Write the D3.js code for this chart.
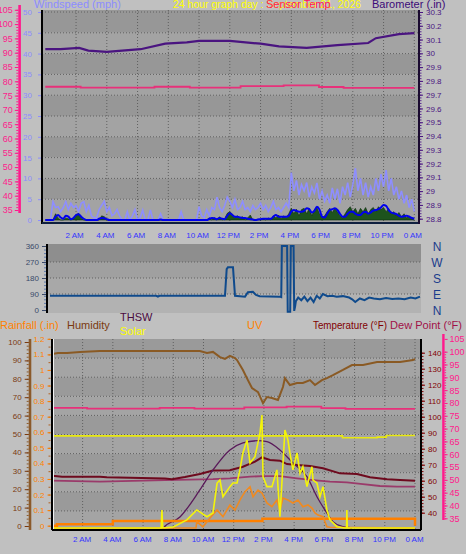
<!DOCTYPE html>
<html><head><meta charset="utf-8">
<script src="https://cdn.jsdelivr.net/npm/d3@7"></script>
<style>body{margin:0;background:#c0c0c0}svg{display:block}text{font-family:"Liberation Sans",Arial,sans-serif}</style>
</head><body><script>
// ---------- DATA ----------
const timeLabels = ["2 AM","4 AM","6 AM","8 AM","10 AM","12 PM","2 PM","4 PM","6 PM","8 PM","10 PM","0 AM"];
const timeLabelHours = [2,4,6,8,10,12,14,16,18,20,22,24];
// top panel
const windTicks = [0,5,10,15,20,25,30,35,40,45,50];
const sensorTicks = [35,40,45,50,55,60,65,70,75,80,85,90,95,100,105];
const baroTicks = [28.8,28.9,29,29.1,29.2,29.3,29.4,29.5,29.6,29.7,29.8,29.9,30,30.1,30.2,30.3];
// wind (mph), one value every 10 minutes from 0:00 to 24:00
const windGust = [0,0,0,4.4,3,3.2,2,3,4.4,2.5,4,3,3.5,2,4,4.4,2,3.5,1,0.5,0.5,2.5,3.5,4.5,2,3,1,1.5,2.5,1,
  0,0,2,0,1,2.5,0,0.5,2.4,0,0,2.4,0,0,0,1.5,0,0,0,0,0,0,0,2,0,0,0,0,0,0,
  3.2,1,0.5,2.5,1,3,2.5,5.5,3,2,3.5,5.5,4.5,3,5,2.5,3,4.5,2.5,3,2,3.5,2.5,3,4,2.5,3.5,2,3,4.5,
  2.5,3,2,3,4,3,11.4,7,9.5,6,8.5,7,9,5.5,8,6.5,8.9,5,7,4.5,6,4,7.7,5,7.5,4,8,6,9,5.5,
  8.5,12.5,7,10,6,9,5.5,8,6,10,7,11,8,12,7,10,6,8,5,7,4,6,3,5,2];
const windAvg = [0,0,0,0,0.8,1.2,0.6,0.3,1,0.8,0.2,0.5,1.2,1.4,0.8,0.3,0,0,0,0,0,0.3,0.5,0.4,0.2,0,0,0,0,0,
  0,0,0,0,0,0,0,0,0,0,0,0,0,0,0,0.1,0,0,0,0,0,0,0,0,0,0,0,0,0,0,
  0,0,0,0,0.3,0.5,0.4,0.2,0.5,0.3,0.2,1,1.6,1.2,0.8,0.8,0.6,0.5,0.5,0.3,0.2,0.1,0,0.1,0.2,0.3,0.3,0.3,0.3,0.8,
  1.2,0.8,0.8,0.8,0.8,1,2,2.4,2.2,2,2,2.2,2.8,2.6,1.8,2.2,3.2,2.5,0.8,0.6,1.5,2.4,2.6,2.8,2.4,1.5,0.8,0.8,1.5,2,
  2,1.5,1.2,1.2,1.8,2,1.5,1.8,2.3,2.4,2.6,3,3.6,3.4,2.4,1.8,1.6,1.4,1,0.8,0.9,1,0.8,0.5,0.3];
const windSpeed = [0,0,0,0,1.5,0.5,0,0,0.5,0.3,0,0.3,1.2,1.6,0.5,0,0,0,0,0,0,0,1,0.8,0.2,0,0,0,0,0,
  0,0,0,0,0,0,0,0,0,0,0,0,0,0,0,0,0,0,0,0,0,0,0,0,0,0,0,0,0,0,
  0,0,0,0,0.5,0,0.5,0,0.8,0,0.3,1.6,2,1.4,0.6,1,0.5,0.8,0,0.5,1.2,0,0,0.2,0,0.3,0,0.5,0,1,
  0.5,1.2,0.3,1,0.5,1.5,2.8,1.5,2.6,1,2.5,2.8,1.5,2.8,1,2.5,3,1.5,0.5,1,2,2.8,1.8,2.8,2,1,0.5,1.5,2.5,3.2,
  2,2.8,1.5,2.8,2,3,1.5,2.5,3,2,3.2,2.5,3,2,2.8,1.5,2,1,1.8,0.8,1.5,0.5,1,0.3,0];
const baroHours = [0,1.0,2.2,2.8,4.0,6.2,7.8,9.2,10.0,12.0,14.0,15.2,17.0,19.0,21.0,21.5,23.0,24.0];
const baroVals  = [30.03,30.03,30.04,30.02,30.01,30.03,30.07,30.08,30.09,30.09,30.07,30.05,30.04,30.06,30.075,30.11,30.14,30.147];
const sensorHours = [0,2.3,7.1,9.4,12.7,15.5,17.8,19.4,24];
const sensorVals  = [78.1,77.8,78.1,77.8,78.3,78.6,78.0,77.7,77.7];
// middle panel: wind direction (deg)
const dirTicks = [0,90,180,270,360];
const compass = ["N","W","S","E","N"];
const dirHours = [0,6.9,7.0,7.1,11.35,11.46,11.54,11.87,12.0,12.65,12.84,13.16,13.36,13.6,14.9,15.0,15.04,15.38,15.42,15.58,15.62,15.8,15.84,15.9,15.95,16.1,16.3,16.5,16.7,16.9,17.1,17.3,17.5,17.7,18.0,18.3,18.6,19.0,19.4,19.6,19.8,20.1,20.4,20.7,21.0,21.4,21.8,22.2,22.6,23.0,23.4,23.7,24];
const dirVals  = [80,80,75,80,80,230,240,240,80,75,100,103,85,78,75,72,360,360,-10,-10,360,360,-5,20,50,70,55,75,50,70,45,80,65,90,78,80,75,78,70,60,45,65,55,70,65,60,68,62,65,60,70,65,75];
// bottom panel
const humTicks = [0,10,20,30,40,50,60,70,80,90,100];
const rainTicks = [0,0.1,0.2,0.3,0.4,0.5,0.6,0.7,0.8,0.9,1,1.1,1.2];
const tempTicks = [40,50,60,70,80,90,100,110,120,130,140];
const dewTicks = [35,40,45,50,55,60,65,70,75,80,85,90,95,100,105];
const humHours = [0,0.37,0.97,1.83,3.15,9.76,10.23,10.63,11.09,11.42,11.75,12.08,12.22,12.61,12.94,13.21,13.61,13.94,14.2,14.53,14.93,15.26,15.39,15.72,16.19,16.58,17.05,17.38,17.84,18.17,18.57,19.23,19.83,20.56,21.49,22.15,23.01,23.87,24];
const humVals  = [93.5,94,94,94.6,95.1,95.1,94,94.6,91.8,90.8,92.5,91.3,90.2,84.8,79.3,75,72.8,66.8,70.1,69.6,68.5,75.5,80.4,76.6,77.7,77.7,79.3,76.6,79.3,80.4,82,84.8,87.5,87.5,89.1,89.1,89.1,90.2,90.8];
const inHumHours = [0,19.2,21.5,22.1,24];
const inHumVals  = [49,48,48.3,49.2,49.2];
const tempHours = [0,0.64,3.15,3.6,7.45,7.91,8.77,9.76,10.63,11.75,12.61,13.41,13.87,14.4,15.06,15.53,16.19,17.05,17.91,19.03,20.16,21.02,22.15,23.01,24];
const tempVals  = [63.1,62.5,62.5,62.1,61.3,60.9,62.3,64.2,66.3,66.5,68.75,71.9,74.6,72.9,72.5,70.4,69.8,69.2,67.75,64.6,64.2,62.1,60.9,60.4,60];
const dewHours = [0,3.15,7.45,10.63,11.75,13.08,13.94,15.06,16.19,17.25,18.37,19.49,20.55,21.68,22.8,24];
const dewVals  = [60,59.4,60.4,61,61.5,62.5,62.9,62.9,61.5,60.4,59.4,59,57.9,56.7,56.25,56.25];
const thswHours = [7.0,7.33,8.46,9.76,10.63,11.75,12.61,13.61,14.2,15.06,15.92,16.85,17.51,18.17,18.57,19.23,19.7,20.0];
const thswVals  = [26,30.4,37.5,54.2,66.7,79.2,83.6,85,84.4,79.2,71.1,62.5,50,39.8,34.4,31.25,30.6,27];
const solarHours = [0,7.2,7.25,7.3,8.0,8.9,9.56,10.23,10.63,10.9,11.09,11.29,11.75,11.95,12.22,12.41,12.61,12.88,13.08,13.41,13.74,13.87,13.94,14.2,14.53,14.86,15.06,15.2,15.39,15.59,15.72,15.92,16.19,16.39,16.58,16.85,17.18,17.25,17.51,17.71,17.91,18.17,18.37,18.83,19.36,19.47,19.49,19.52,24];
const solarVals  = [0,0,96,0,5,43,96,60,80,239,255,166,220,239,239,309,399,468,346,379,505,601,273,220,220,309,60,255,521,468,399,309,399,291,326,220,326,255,239,166,220,96,43,7,0,0,96,0,0];
const uvHours = [0,9.5,9.56,9.96,10.43,10.9,11.29,11.75,12.08,12.41,12.75,13.08,13.28,13.61,13.87,14.2,14.53,14.86,15.06,15.26,15.59,15.92,16.25,16.58,16.91,17.18,17.38,17.58,17.91,18.17,18.37,24];
const uvVals  = [0,0,0.54,0.1,0.85,1.53,0.96,1.96,1.53,2.38,3.09,3.51,2.66,3.23,2.98,2.13,1.81,2.38,1.53,2.55,2.38,2.13,2.38,1.81,1.96,1.7,1.28,1.1,0.96,0.1,0.06,0];
const rainHours = [0,0.3,4.0,13.9,24.0];
const rainVals  = [0,0.01,0.03,0.045,0];

// ---------- SETUP ----------
const W=466,H=554;
const svg=d3.select("body").append("svg").attr("width",W).attr("height",H);
svg.append("rect").attr("width",W).attr("height",H).attr("fill","#c0c0c0");
const FS=8;
function zip(hs,vs){return hs.map((h,i)=>[h,vs[i]]);}
function idx(vs,step){return vs.map((v,i)=>[i*step,v]);}
function styleAxis(g,color,fs){
  g.select(".domain").remove();
  g.selectAll("line").attr("stroke",color);
  g.selectAll("text").attr("fill",color).style("font-size",fs+"px").style("font-family","Liberation Sans, Arial, sans-serif");
}
function bands(x0,y0,x1,y1,ys,cols){
  const g=svg.append("g");
  for(let i=0;i<ys.length-1;i++){
    g.append("rect").attr("x",x0).attr("y",ys[i]).attr("width",x1-x0).attr("height",ys[i+1]-ys[i]).attr("fill",cols[i%cols.length]);
  }
  return g;
}
function grid(x0,y0,x1,y1,hx,vy){
  const g=svg.append("g").attr("stroke","#606060").attr("stroke-dasharray","1,2").attr("stroke-width",1);
  hx.forEach(x=>g.append("line").attr("x1",x).attr("x2",x).attr("y1",y0).attr("y2",y1));
  vy.forEach(y=>g.append("line").attr("x1",x0).attr("x2",x1).attr("y1",y).attr("y2",y));
}
function clip(id,x0,y0,x1,y1){
  svg.append("clipPath").attr("id",id).append("rect").attr("x",x0).attr("y",y0).attr("width",x1-x0).attr("height",y1-y0);
  return "url(#"+id+")";
}

// ---------- TOP PANEL ----------
const T={x0:42,x1:419,y0:10,y1:223};
const xTop=d3.scaleLinear([0,24],[45.3,414.3]);
const yWind=d3.scaleLinear([0,50],[220,12]);
const yBaro=d3.scaleLinear([28.8,30.3],[218.7,12]);
const yMag=d3.scaleLinear([35,105],[210,9.8]);
{
  const ys=[T.y0]; windTicks.slice().reverse().forEach(v=>{if(v<50&&v>0) ys.push(yWind(v));}); ys.push(T.y1);
  bands(T.x0,T.y0,T.x1,T.y1,ys,["#979797","#a3a3a3"]);
  grid(T.x0,T.y0,T.x1,T.y1,timeLabelHours.map(h=>xTop(h)),windTicks.filter(v=>v>0&&v<=50).map(v=>yWind(v)));
}
const cTop=clip("ctop",T.x0,T.y0,T.x1,T.y1);
const gTop=svg.append("g").attr("clip-path",cTop);
gTop.append("path").datum(idx(windGust,1/6)).attr("fill","none").attr("stroke","#8e8eff").attr("stroke-width",1.6)
  .attr("d",d3.line().x(d=>xTop(d[0])).y(d=>yWind(d[1])));
gTop.append("path").datum(idx(windSpeed,1/6)).attr("fill","#1d531d").attr("stroke","#0c2e0c").attr("stroke-width",0.6)
  .attr("d",d3.area().x(d=>xTop(d[0])).y0(yWind(0)).y1(d=>yWind(d[1])));
gTop.append("path").datum(idx(windAvg,1/6)).attr("fill","none").attr("stroke","#0000ee").attr("stroke-width",2)
  .attr("d",d3.line().curve(d3.curveMonotoneX).x(d=>xTop(d[0])).y(d=>yWind(d[1])));
gTop.append("path").datum(zip(baroHours,baroVals)).attr("fill","none").attr("stroke","#4a1480").attr("stroke-width",2.2)
  .attr("d",d3.line().x(d=>xTop(d[0])).y(d=>yBaro(d[1])));
gTop.append("path").datum(zip(sensorHours,sensorVals)).attr("fill","none").attr("stroke","#e8307a").attr("stroke-width",1.8)
  .attr("d",d3.line().curve(d3.curveStepAfter).x(d=>xTop(d[0])).y(d=>yMag(d[1])));
// borders
svg.append("line").attr("x1",T.x0).attr("x2",T.x0).attr("y1",T.y0).attr("y2",T.y1+1).attr("stroke","#000").attr("stroke-width",2);
svg.append("line").attr("x1",T.x0).attr("x2",T.x1).attr("y1",T.y1).attr("y2",T.y1).attr("stroke","#102040").attr("stroke-width",2);
svg.append("line").attr("x1",T.x1).attr("x2",T.x1).attr("y1",T.y0).attr("y2",T.y1+1).attr("stroke","#1a0a30").attr("stroke-width",2);
// axes
styleAxis(svg.append("g").attr("transform","translate(41,0)").call(d3.axisLeft(yWind).tickValues(windTicks).tickSize(3).tickPadding(6)),"#8c8cff",FS);
svg.append("rect").attr("x",18.3).attr("y",5).attr("width",2.6).attr("height",208).attr("fill","#ff1a8c");
styleAxis(svg.append("g").attr("transform","translate(18.3,0)").call(d3.axisLeft(yMag).ticks(70).tickSize(2).tickFormat("")),"#ff1a8c",FS);
styleAxis(svg.append("g").attr("transform","translate(18.3,0)").call(d3.axisLeft(yMag).tickValues(sensorTicks).tickSize(3.5).tickPadding(2)),"#ff1a8c",FS+1);
styleAxis(svg.append("g").attr("transform","translate(420,0)").call(d3.axisRight(yBaro).ticks(75).tickSize(1.5).tickFormat("")),"#5a2a90",FS);
styleAxis(svg.append("g").attr("transform","translate(420,0)").call(d3.axisRight(yBaro).tickValues(baroTicks).tickSize(3).tickPadding(3).tickFormat(d3.format(".1~f"))),"#4a1480",FS);
// time labels
styleAxis(svg.append("g").attr("transform","translate(-2,230)").call(d3.axisBottom(xTop).tickValues(timeLabelHours).tickSize(0).tickPadding(2).tickFormat((d,i)=>timeLabels[i])),"#3535ff",FS);
// titles
svg.append("text").attr("x",34).attr("y",8).attr("fill","#8c8cff").style("font-size","11px").text("Windspeed (mph)");
svg.append("text").attr("x",173).attr("y",8).attr("fill","#ffff00").style("font-size","11px").attr("textLength",188).attr("lengthAdjust","spacingAndGlyphs").text("24 hour graph day : September 21, 2026");
svg.append("text").attr("x",266).attr("y",8).attr("fill","#ff1060").style("font-size","11px").text("Sensor Temp");
svg.append("text").attr("x",372).attr("y",8).attr("fill","#3c0a78").style("font-size","11px").text("Barometer (.in)");

// ---------- MIDDLE PANEL ----------
const M={x0:47,x1:421,y0:244,y1:313};
const xMid=d3.scaleLinear([0,24],[50,420]);
const yDir=d3.scaleLinear([0,360],[310,246]);
{
  const ys=[M.y0,yDir(270),yDir(180),yDir(90),M.y1];
  bands(M.x0,M.y0,M.x1,M.y1,ys,["#8e8e8e"]).selectAll("rect").attr("fill",(d,i)=>["#8e8e8e","#a0a0a0","#a8a8a8","#b2b2b2"][i]);
  grid(M.x0,M.y0,M.x1,M.y1,[],[yDir(270),yDir(180),yDir(90)]);
}
const cMid=clip("cmid",M.x0,M.y0,M.x1,M.y1);
svg.append("g").attr("clip-path",cMid).append("path").datum(zip(dirHours,dirVals)).attr("fill","none").attr("stroke","#0f4a8c").attr("stroke-width",2)
  .attr("d",d3.line().x(d=>xMid(d[0])).y(d=>yDir(d[1])));
svg.append("line").attr("x1",M.x0).attr("x2",M.x0).attr("y1",M.y0).attr("y2",M.y1).attr("stroke","#000").attr("stroke-width",2);
styleAxis(svg.append("g").attr("transform","translate(46,0)").call(d3.axisLeft(yDir).ticks(24).tickSize(2).tickFormat("")),"#5a78aa",FS);
styleAxis(svg.append("g").attr("transform","translate(46,0)").call(d3.axisLeft(yDir).tickValues(dirTicks).tickSize(4).tickPadding(3)),"#3a4a6a",FS);
svg.selectAll(".compass").data(compass).enter().append("text").attr("x",437).attr("y",(d,i)=>yDir(360-i*90)+4.5)
  .attr("text-anchor","middle").attr("fill","#1a3c8c").style("font-size","12px").text(d=>d);

// ---------- BOTTOM PANEL ----------
const B={x0:52,x1:421,y0:339,y1:530};
const xBot=d3.scaleLinear([0,24],[52.4,415]);
const yHum=d3.scaleLinear([0,100],[526,342]);
const yRain=d3.scaleLinear([0,1.2],[525.7,338.8]);
const yTemp=d3.scaleLinear([40,140],[512.7,352.7]);
const yDew=d3.scaleLinear([35,100],[518.3,351.7]);
const ySolar=d3.scaleLinear([0,1000],[528,340]);
const yUV=d3.scaleLinear([0,16],[528,340]);
{
  const step=(B.y1-B.y0)/10; const ys=[]; for(let i=0;i<=10;i++) ys.push(B.y0+i*step);
  bands(B.x0,B.y0,B.x1,B.y1,ys,["#9a9a9a","#a4a4a4"]);
  grid(B.x0,B.y0,B.x1,B.y1,timeLabelHours.map(h=>xBot(h)),ys.slice(1,-1));
}
const cBot=clip("cbot",B.x0,B.y0,B.x1,B.y1-1);
const gB=svg.append("g").attr("clip-path",cBot);
const L=(hs,vs,y,col,w,curve)=>gB.append("path").datum(zip(hs,vs)).attr("fill","none").attr("stroke",col).attr("stroke-width",w)
  .attr("d",d3.line().curve(curve||d3.curveLinear).x(d=>xBot(d[0])).y(d=>y(d[1])));
L(humHours,humVals,yHum,"#8a5a24",2);
L(sensorHours,sensorVals,yDew,"#e8307a",1.8,d3.curveStepAfter);
L(inHumHours,inHumVals,yHum,"#e8e810",1.6,d3.curveStepAfter);
L(dewHours,dewVals,yTemp,"#9a3a6a",1.8);
L(tempHours,tempVals,yTemp,"#6e0a1e",2);
L(thswHours,thswVals,yTemp,"#5a1a5a",1.3,d3.curveMonotoneX);
L(rainHours,rainVals,yRain,"#ff8000",2.5,d3.curveStepAfter);
L(uvHours,uvVals,yUV,"#f08a20",1.6);
L(solarHours,solarVals,ySolar,"#f4f40a",1.6);
svg.append("line").attr("x1",B.x0).attr("x2",B.x0).attr("y1",B.y0).attr("y2",B.y1).attr("stroke","#000").attr("stroke-width",2);
svg.append("line").attr("x1",B.x0+1.5).attr("x2",B.x0+1.5).attr("y1",B.y0).attr("y2",B.y1-1).attr("stroke","#f0f0f0").attr("stroke-width",1);
svg.append("line").attr("x1",B.x0).attr("x2",B.x1).attr("y1",B.y1).attr("y2",B.y1).attr("stroke","#000").attr("stroke-width",2);
svg.append("line").attr("x1",B.x1).attr("x2",B.x1).attr("y1",B.y0).attr("y2",B.y1).attr("stroke","#000").attr("stroke-width",2);
// left axes
svg.append("rect").attr("x",28.7).attr("y",339).attr("width",2.6).attr("height",191).attr("fill","#8b5a2b");
styleAxis(svg.append("g").attr("transform","translate(28.7,0)").call(d3.axisLeft(yHum).ticks(50).tickSize(2).tickFormat("")),"#8b5a2b",FS);
styleAxis(svg.append("g").attr("transform","translate(28.7,0)").call(d3.axisLeft(yHum).tickValues(humTicks).tickSize(4).tickPadding(3)),"#7a3a10",FS);
styleAxis(svg.append("g").attr("transform","translate(50.5,0)").call(d3.axisLeft(yRain).ticks(24).tickSize(2).tickFormat("")),"#b06020",FS);
styleAxis(svg.append("g").attr("transform","translate(50.5,0)").call(d3.axisLeft(yRain).tickValues(rainTicks).tickSize(3).tickPadding(3).tickFormat(d3.format(".1~f"))),"#ff8000",FS);
// right axes
styleAxis(svg.append("g").attr("transform","translate(422,0)").call(d3.axisRight(yTemp).ticks(50).tickSize(1.5).tickFormat("")),"#800000",FS);
styleAxis(svg.append("g").attr("transform","translate(422,0)").call(d3.axisRight(yTemp).tickValues(tempTicks).tickSize(3).tickPadding(3)),"#800000",FS);
svg.append("rect").attr("x",442.2).attr("y",334).attr("width",2.4).attr("height",186).attr("fill","#ff1a8c");
styleAxis(svg.append("g").attr("transform","translate(444.6,0)").call(d3.axisRight(yDew).ticks(65).tickSize(1.5).tickFormat("")),"#ff1a8c",FS);
styleAxis(svg.append("g").attr("transform","translate(444.6,0)").call(d3.axisRight(yDew).tickValues(dewTicks).tickSize(3).tickPadding(2)),"#ff1a8c",FS+1);
styleAxis(svg.append("g").attr("transform","translate(-1,536)").call(d3.axisBottom(xBot).tickValues(timeLabelHours).tickSize(0).tickPadding(0).tickFormat((d,i)=>timeLabels[i])),"#3535ff",FS);
// legend
const leg=[["Rainfall (.in)",0,329,"#ff8000",11],["Humidity",67,329,"#7a3a10",11],["THSW",120,321,"#4a0a40",11],["Solar",120,335,"#ffff00",11],["UV",247,329,"#ff8000",11]];
leg.forEach(l=>svg.append("text").attr("x",l[1]).attr("y",l[2]).attr("fill",l[3]).style("font-size",l[4]+"px").text(l[0]));
svg.append("text").attr("x",313).attr("y",329).attr("fill","#800000").style("font-size","10px").attr("textLength",74).attr("lengthAdjust","spacingAndGlyphs").text("Temperature (°F)");
svg.append("text").attr("x",390).attr("y",329).attr("fill","#a01048").style("font-size","10px").attr("textLength",72).attr("lengthAdjust","spacingAndGlyphs").text("Dew Point (°F)");
</script></body></html>
